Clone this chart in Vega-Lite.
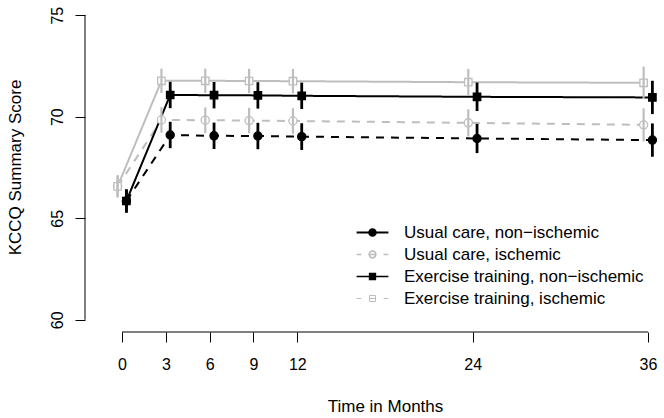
{
  "$schema": "https://vega.github.io/schema/vega-lite/v6.json",
  "width": 579,
  "height": 329,
  "autosize": {"type": "none"},
  "padding": {"left": 85, "top": 3, "right": 0, "bottom": 86},
  "background": "white",
  "config": {
    "view": {"stroke": null},
    "font": "Liberation Sans",
    "axis": {"grid": false, "domain": false, "tickColor": "black", "tickWidth": 1, "tickSize": 10, "labelColor": "black", "labelFontSize": 16, "titleColor": "black", "titleFontSize": 17, "titleFontWeight": "normal", "labelFont": "Liberation Sans", "titleFont": "Liberation Sans"},
    "legend": {"orient": "none", "legendX": 279, "legendY": 221, "padding": 0, "labelFontSize": 17, "labelFont": "Liberation Sans", "labelColor": "#000000", "labelOpacity": 1, "labelLimit": 0, "symbolSize": 36, "labelOffset": 23, "rowPadding": 4}
  },
  "datasets": {
    "pts": [
      {"series": "Usual care, non−ischemic", "t": 0.3, "y": 65.85, "lo": 65.28, "hi": 66.42},
      {"series": "Usual care, non−ischemic", "t": 3.3, "y": 69.10, "lo": 68.45, "hi": 69.75},
      {"series": "Usual care, non−ischemic", "t": 6.3, "y": 69.06, "lo": 68.41, "hi": 69.71},
      {"series": "Usual care, non−ischemic", "t": 9.3, "y": 69.05, "lo": 68.40, "hi": 69.70},
      {"series": "Usual care, non−ischemic", "t": 12.3, "y": 69.02, "lo": 68.36, "hi": 69.68},
      {"series": "Usual care, non−ischemic", "t": 24.3, "y": 68.93, "lo": 68.21, "hi": 69.65},
      {"series": "Usual care, non−ischemic", "t": 36.3, "y": 68.85, "lo": 68.03, "hi": 69.67},
      {"series": "Usual care, ischemic", "t": -0.3, "y": 66.57, "lo": 66.03, "hi": 67.11},
      {"series": "Usual care, ischemic", "t": 2.7, "y": 69.84, "lo": 69.21, "hi": 70.47},
      {"series": "Usual care, ischemic", "t": 5.7, "y": 69.83, "lo": 69.20, "hi": 70.46},
      {"series": "Usual care, ischemic", "t": 8.7, "y": 69.81, "lo": 69.18, "hi": 70.44},
      {"series": "Usual care, ischemic", "t": 11.7, "y": 69.79, "lo": 69.16, "hi": 70.42},
      {"series": "Usual care, ischemic", "t": 23.7, "y": 69.70, "lo": 69.03, "hi": 70.37},
      {"series": "Usual care, ischemic", "t": 35.7, "y": 69.60, "lo": 68.78, "hi": 70.42},
      {"series": "Exercise training, non−ischemic", "t": 0.3, "y": 65.85, "lo": 65.28, "hi": 66.42},
      {"series": "Exercise training, non−ischemic", "t": 3.3, "y": 71.07, "lo": 70.42, "hi": 71.72},
      {"series": "Exercise training, non−ischemic", "t": 6.3, "y": 71.06, "lo": 70.41, "hi": 71.71},
      {"series": "Exercise training, non−ischemic", "t": 9.3, "y": 71.05, "lo": 70.40, "hi": 71.70},
      {"series": "Exercise training, non−ischemic", "t": 12.3, "y": 71.03, "lo": 70.38, "hi": 71.68},
      {"series": "Exercise training, non−ischemic", "t": 24.3, "y": 70.98, "lo": 70.28, "hi": 71.68},
      {"series": "Exercise training, non−ischemic", "t": 36.3, "y": 70.95, "lo": 70.13, "hi": 71.77},
      {"series": "Exercise training, ischemic", "t": -0.3, "y": 66.57, "lo": 66.03, "hi": 67.11},
      {"series": "Exercise training, ischemic", "t": 2.7, "y": 71.77, "lo": 71.17, "hi": 72.37},
      {"series": "Exercise training, ischemic", "t": 5.7, "y": 71.77, "lo": 71.17, "hi": 72.37},
      {"series": "Exercise training, ischemic", "t": 8.7, "y": 71.76, "lo": 71.16, "hi": 72.36},
      {"series": "Exercise training, ischemic", "t": 11.7, "y": 71.75, "lo": 71.15, "hi": 72.35},
      {"series": "Exercise training, ischemic", "t": 23.7, "y": 71.70, "lo": 71.05, "hi": 72.35},
      {"series": "Exercise training, ischemic", "t": 35.7, "y": 71.67, "lo": 70.87, "hi": 72.47}
    ]
  },
  "layer": [
    {
      "data": {"name": "pts"},
      "mark": {"type": "line", "strokeWidth": 2},
      "encoding": {
        "x": {"field": "t", "type": "quantitative", "title": "Time in Months", "scale": {"domain": [-2.532, 37.095], "nice": false, "zero": false},
          "axis": {"values": [0, 3, 6, 9, 12, 24, 36], "labelPadding": 14, "labelBaseline": "top", "labelFlush": false, "labelOverlap": false, "titleX": 300, "titleY": 79, "titleBaseline": "alphabetic", "titleAlign": "center", "titleAnchor": null}},
        "y": {"field": "y", "type": "quantitative", "title": "KCCQ Summary Score", "scale": {"domain": [59.4, 75.6], "nice": false, "zero": false},
          "axis": {"values": [60, 65, 70, 75], "labelAngle": 270, "labelAlign": "center", "labelBaseline": "alphabetic", "labelPadding": 13, "labelFlush": false, "labelOverlap": false, "titleAngle": 270, "titleX": -65, "titleY": 164, "titleBaseline": "alphabetic", "titleAlign": "center", "titleAnchor": null}},
        "detail": {"field": "series", "type": "nominal"},
        "stroke": {"condition": {"test": "indexof(datum.series,'non')>=0", "value": "#000000"}, "value": "#BEBEBE"},
        "strokeDash": {"condition": {"test": "indexof(datum.series,'Usual')>=0", "value": [8, 7]}, "value": [1, 0]},
        "order": {"field": "t", "type": "quantitative"}
      }
    },
    {
      "data": {"name": "pts"},
      "mark": {"type": "point", "opacity": 1, "strokeWidth": 1.3},
      "encoding": {
        "x": {"field": "t", "type": "quantitative", "title": "Time in Months"},
        "y": {"field": "y", "type": "quantitative", "title": "KCCQ Summary Score"},
        "stroke": {"condition": {"test": "indexof(datum.series,'non')>=0", "value": "#000000"}, "value": "#BEBEBE"},
        "fill": {"condition": {"test": "indexof(datum.series,'non')>=0", "value": "#000000"}, "value": "#FFFFFF"},
        "shape": {"condition": {"test": "indexof(datum.series,'Exercise')>=0", "value": "square"}, "value": "circle"},
        "size": {"condition": {"test": "indexof(datum.series,'Exercise')>=0", "value": 55}, "value": 66}
      }
    },
    {
      "data": {"name": "pts"},
      "mark": {"type": "rule"},
      "encoding": {
        "x": {"field": "t", "type": "quantitative", "title": "Time in Months"},
        "y": {"field": "lo", "type": "quantitative", "title": "KCCQ Summary Score"},
        "y2": {"field": "hi"},
        "stroke": {"condition": {"test": "indexof(datum.series,'non')>=0", "value": "#000000"}, "value": "#BEBEBE"},
        "strokeWidth": {"condition": {"test": "indexof(datum.series,'non')>=0", "value": 2.8}, "value": 2.2}
      }
    },
    {
      "data": {"name": "pts"},
      "transform": [{"filter": "datum.t > 1000"}],
      "mark": {"type": "point", "size": 36, "opacity": 1},
      "encoding": {
        "x": {"field": "t", "type": "quantitative", "title": "Time in Months"},
        "y": {"field": "y", "type": "quantitative", "title": "KCCQ Summary Score"},
        "shape": {"field": "series", "type": "nominal", "legend": {"title": null},
          "scale": {"domain": ["Usual care, non−ischemic", "Usual care, ischemic", "Exercise training, non−ischemic", "Exercise training, ischemic"],
            "range": ["M-5.3,0H5.3M-1.1,0A1.1,1.1,0,1,1,1.1,0A1.1,1.1,0,1,1,-1.1,0Z", "M-5.3,0H-3.7M-1.1,0H1.1M3.7,0H5.3M-1.1,0A1.1,1.1,0,1,1,1.1,0A1.1,1.1,0,1,1,-1.1,0Z", "M-5.3,0H5.3M-1,-1H1V1H-1Z", "M-5.3,0H-3.7M-1,0H1M3.7,0H5.3M-1,-1H1V1H-1Z"]}},
        "fill": {"field": "series", "type": "nominal", "legend": {"title": null},
          "scale": {"domain": ["Usual care, non−ischemic", "Usual care, ischemic", "Exercise training, non−ischemic", "Exercise training, ischemic"], "range": ["#000000", "transparent", "#000000", "transparent"]}},
        "stroke": {"field": "series", "type": "nominal", "legend": {"title": null},
          "scale": {"domain": ["Usual care, non−ischemic", "Usual care, ischemic", "Exercise training, non−ischemic", "Exercise training, ischemic"], "range": ["#000000", "#BEBEBE", "#000000", "#BEBEBE"]}},
        "strokeWidth": {"field": "series", "type": "ordinal", "legend": {"title": null},
          "scale": {"domain": ["Usual care, non−ischemic", "Usual care, ischemic", "Exercise training, non−ischemic", "Exercise training, ischemic"], "range": [2, 1, 2, 1]}}
      }
    },
    {
      "data": {"values": [{"t": 0, "t2": 36, "y": 59.4}]},
      "mark": {"type": "rule", "strokeWidth": 1, "color": "black"},
      "encoding": {
        "x": {"field": "t", "type": "quantitative", "title": "Time in Months"},
        "x2": {"field": "t2"},
        "y": {"field": "y", "type": "quantitative", "title": "KCCQ Summary Score"}
      }
    },
    {
      "data": {"values": [{"t": -2.532, "lo": 60, "hi": 75}]},
      "mark": {"type": "rule", "strokeWidth": 1, "color": "black"},
      "encoding": {
        "x": {"field": "t", "type": "quantitative", "title": "Time in Months"},
        "y": {"field": "lo", "type": "quantitative", "title": "KCCQ Summary Score"},
        "y2": {"field": "hi"}
      }
    }
  ]
}
